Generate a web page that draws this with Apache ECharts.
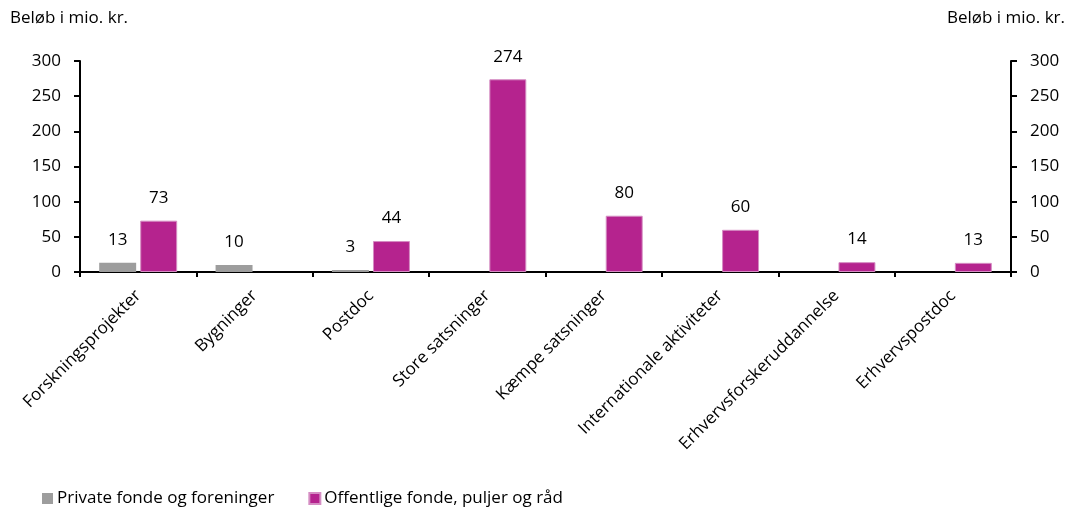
<!DOCTYPE html>
<html>
<head>
<meta charset="utf-8">
<script src="https://cdn.jsdelivr.net/npm/echarts@6/dist/echarts.min.js"></script>
<style>
  html, body { margin: 0; padding: 0; background: #ffffff; }
  #chart { width: 1070px; height: 508px; }
</style>
</head>
<body>
<div id="chart"></div>
<script>
// Bevillinger fordelt på virkemiddeltype (mio. kr.)
const categories = [
  'Forskningsprojekter', 'Bygninger', 'Postdoc', 'Store satsninger',
  'Kæmpe satsninger', 'Internationale aktiviteter', 'Erhvervsforskeruddannelse', 'Erhvervspostdoc'
];
const privateFunds = [13, 10, 3, null, null, null, null, null];
const publicFunds = [73, null, 44, 274, 80, 60, 14, 13];
const seriesNames = ['Private fonde og foreninger', 'Offentlige fonde, puljer og råd'];
const axisTitle = 'Beløb i mio. kr.';
const yTicks = { min: 0, max: 300, interval: 50 };

const FONT = 'Open Sans';
const SIZE = 17;
const chart = echarts.init(document.getElementById('chart'));

const valueAxis = (side) => ({
  type: 'value',
  position: side,
  min: yTicks.min,
  max: yTicks.max,
  interval: yTicks.interval,
  splitLine: { show: false },
  axisLine: { show: true, lineStyle: { color: '#000', width: 2 } },
  axisTick: { show: true, inside: false, length: 6, lineStyle: { color: '#000', width: 2 } },
  axisLabel: { color: '#000', fontFamily: FONT, fontSize: SIZE, margin: 19 }
});

const labelStyle = {
  show: true,
  position: 'top',
  distance: 14,
  color: '#000',
  fontFamily: FONT,
  fontSize: SIZE
};

chart.setOption({
  animation: false,
  grid: { left: 80, right: 59, top: 61, bottom: 236, containLabel: false },
  graphic: [
    { type: 'text', left: 10, top: 10, style: { text: axisTitle, fill: '#000', font: SIZE + 'px "' + FONT + '"' } },
    { type: 'text', right: 5, top: 10, style: { text: axisTitle, fill: '#000', font: SIZE + 'px "' + FONT + '"' } }
  ],
  legend: {
    left: 37,
    top: 485,
    itemWidth: 11,
    itemHeight: 11,
    itemGap: 34,
    icon: 'rect',
    textStyle: { color: '#000', fontFamily: FONT, fontSize: SIZE, padding: [0, 0, 0, -1] },
    data: seriesNames
  },
  xAxis: {
    type: 'category',
    data: categories,
    axisLine: { lineStyle: { color: '#000', width: 2 } },
    axisTick: { show: true, length: 5, lineStyle: { color: '#000', width: 2 } },
    axisLabel: { color: '#000', fontFamily: FONT, fontSize: SIZE, rotate: 45, margin: 21, interval: 0 }
  },
  yAxis: [valueAxis('left'), valueAxis('right')],
  series: [
    {
      name: seriesNames[0],
      type: 'bar',
      yAxisIndex: 0,
      data: privateFunds,
      barCategoryGap: '33%',
      barGap: '11%',
      itemStyle: { color: '#9D9D9D' },
      label: labelStyle
    },
    {
      name: seriesNames[1],
      type: 'bar',
      yAxisIndex: 0,
      data: publicFunds,
      barCategoryGap: '33%',
      barGap: '11%',
      itemStyle: { color: '#B5238E', borderColor: '#D58DC3', borderWidth: 1 },
      label: labelStyle
    }
  ]
});
</script>
</body>
</html>
